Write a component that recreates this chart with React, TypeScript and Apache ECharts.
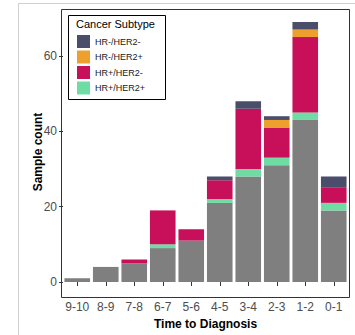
import React, { useEffect, useRef } from "react";
import * as echarts from "echarts";

const categories = ["9-10", "8-9", "7-8", "6-7", "5-6", "4-5", "3-4", "2-3", "1-2", "0-1"];
const unknownValues = [1, 4, 5, 9, 11, 21, 28, 31, 43, 19];
const hrPosHer2Pos = [0, 0, 0, 1, 0, 1, 2, 2, 2, 2];
const hrPosHer2Neg = [0, 0, 1, 9, 3, 5, 16, 8, 20, 4];
const hrNegHer2Pos = [0, 0, 0, 0, 0, 0, 0, 2, 2, 0];
const hrNegHer2Neg = [0, 0, 0, 0, 0, 1, 2, 1, 2, 3];
const yTicks = [0, 20, 40, 60];
const legendNames = ["HR-/HER2-", "HR-/HER2+", "HR+/HER2-", "HR+/HER2+"];

const FONT = "'Liberation Sans', Arial, Helvetica, sans-serif";

export default function App() {
  const ref = useRef<HTMLDivElement>(null);
  useEffect(() => {
    if (!ref.current) return;
    const chart = echarts.init(ref.current, undefined, { renderer: "svg" });
    const mk = (name: string, data: number[], color: string) => ({
      name,
      type: "bar",
      stack: "total",
      data,
      barWidth: 25.6,
      itemStyle: { color },
      emphasis: { disabled: true },
    });
    chart.setOption({
      animation: false,
      textStyle: { fontFamily: FONT },
      grid: { left: 63, right: 7, top: 9, height: 289 },
      legend: {
        show: true,
        data: legendNames,
        orient: "vertical",
        left: 77,
        top: 35,
        padding: 0,
        itemWidth: 13,
        itemHeight: 13,
        itemGap: 2.5,
        icon: "rect",
        textStyle: { fontSize: 9, color: "#1a1a1a", fontFamily: FONT },
      },
      xAxis: {
        type: "category",
        data: categories,
        axisLine: { show: false },
        axisTick: { show: true, alignWithLabel: true, length: 4, lineStyle: { color: "#333" } },
        axisLabel: { interval: 0, fontSize: 12, color: "#4d4d4d", margin: 6, fontFamily: FONT },
        name: "Time to Diagnosis",
        nameLocation: "middle",
        nameGap: 23,
        nameTextStyle: { fontSize: 12, fontWeight: "bold", color: "#000", fontFamily: FONT },
      },
      yAxis: {
        type: "value",
        min: -3.45,
        max: 72.45,
        splitLine: { show: false },
        axisLine: { show: false },
        axisTick: { show: true, length: 4, lineStyle: { color: "#333" }, customValues: yTicks },
        axisLabel: { fontSize: 12, color: "#4d4d4d", margin: 6, customValues: yTicks, fontFamily: FONT },
        name: "Sample count",
        nameLocation: "middle",
        nameGap: 19,
        nameMoveOverlap: false,
        nameTextStyle: { fontSize: 12, fontWeight: "bold", color: "#000", fontFamily: FONT },
      },
      series: [
        mk("Unknown", unknownValues, "#7f7f7f"),
        mk("HR+/HER2+", hrPosHer2Pos, "#6fdca3"),
        mk("HR+/HER2-", hrPosHer2Neg, "#c8105a"),
        mk("HR-/HER2+", hrNegHer2Pos, "#eea02f"),
        mk("HR-/HER2-", hrNegHer2Neg, "#4b4e6b"),
      ],
      graphic: [
        { type: "rect", silent: true, shape: { x: 18.5, y: 3.5, width: 400, height: 400 }, style: { fill: "none", stroke: "#d0d0d0", lineWidth: 1 } },
        { type: "rect", silent: true, z: 10, shape: { x: 61.5, y: 9.5, width: 288, height: 288 }, style: { fill: "none", stroke: "#333", lineWidth: 1 } },
        { type: "rect", silent: true, z: 10, shape: { x: 68.5, y: 15.5, width: 97, height: 84 }, style: { fill: "none", stroke: "#000", lineWidth: 1 } },
        { type: "text", silent: true, z: 10, x: 76, y: 24, style: { text: "Cancer Subtype", fontSize: 11, fill: "#000", fontFamily: FONT, textVerticalAlign: "middle" } },
      ],
    });
    return () => chart.dispose();
  }, []);
  return <div ref={ref} style={{ width: 355, height: 335, position: "absolute", left: 0, top: 0, background: "#fff" }} />;
}
